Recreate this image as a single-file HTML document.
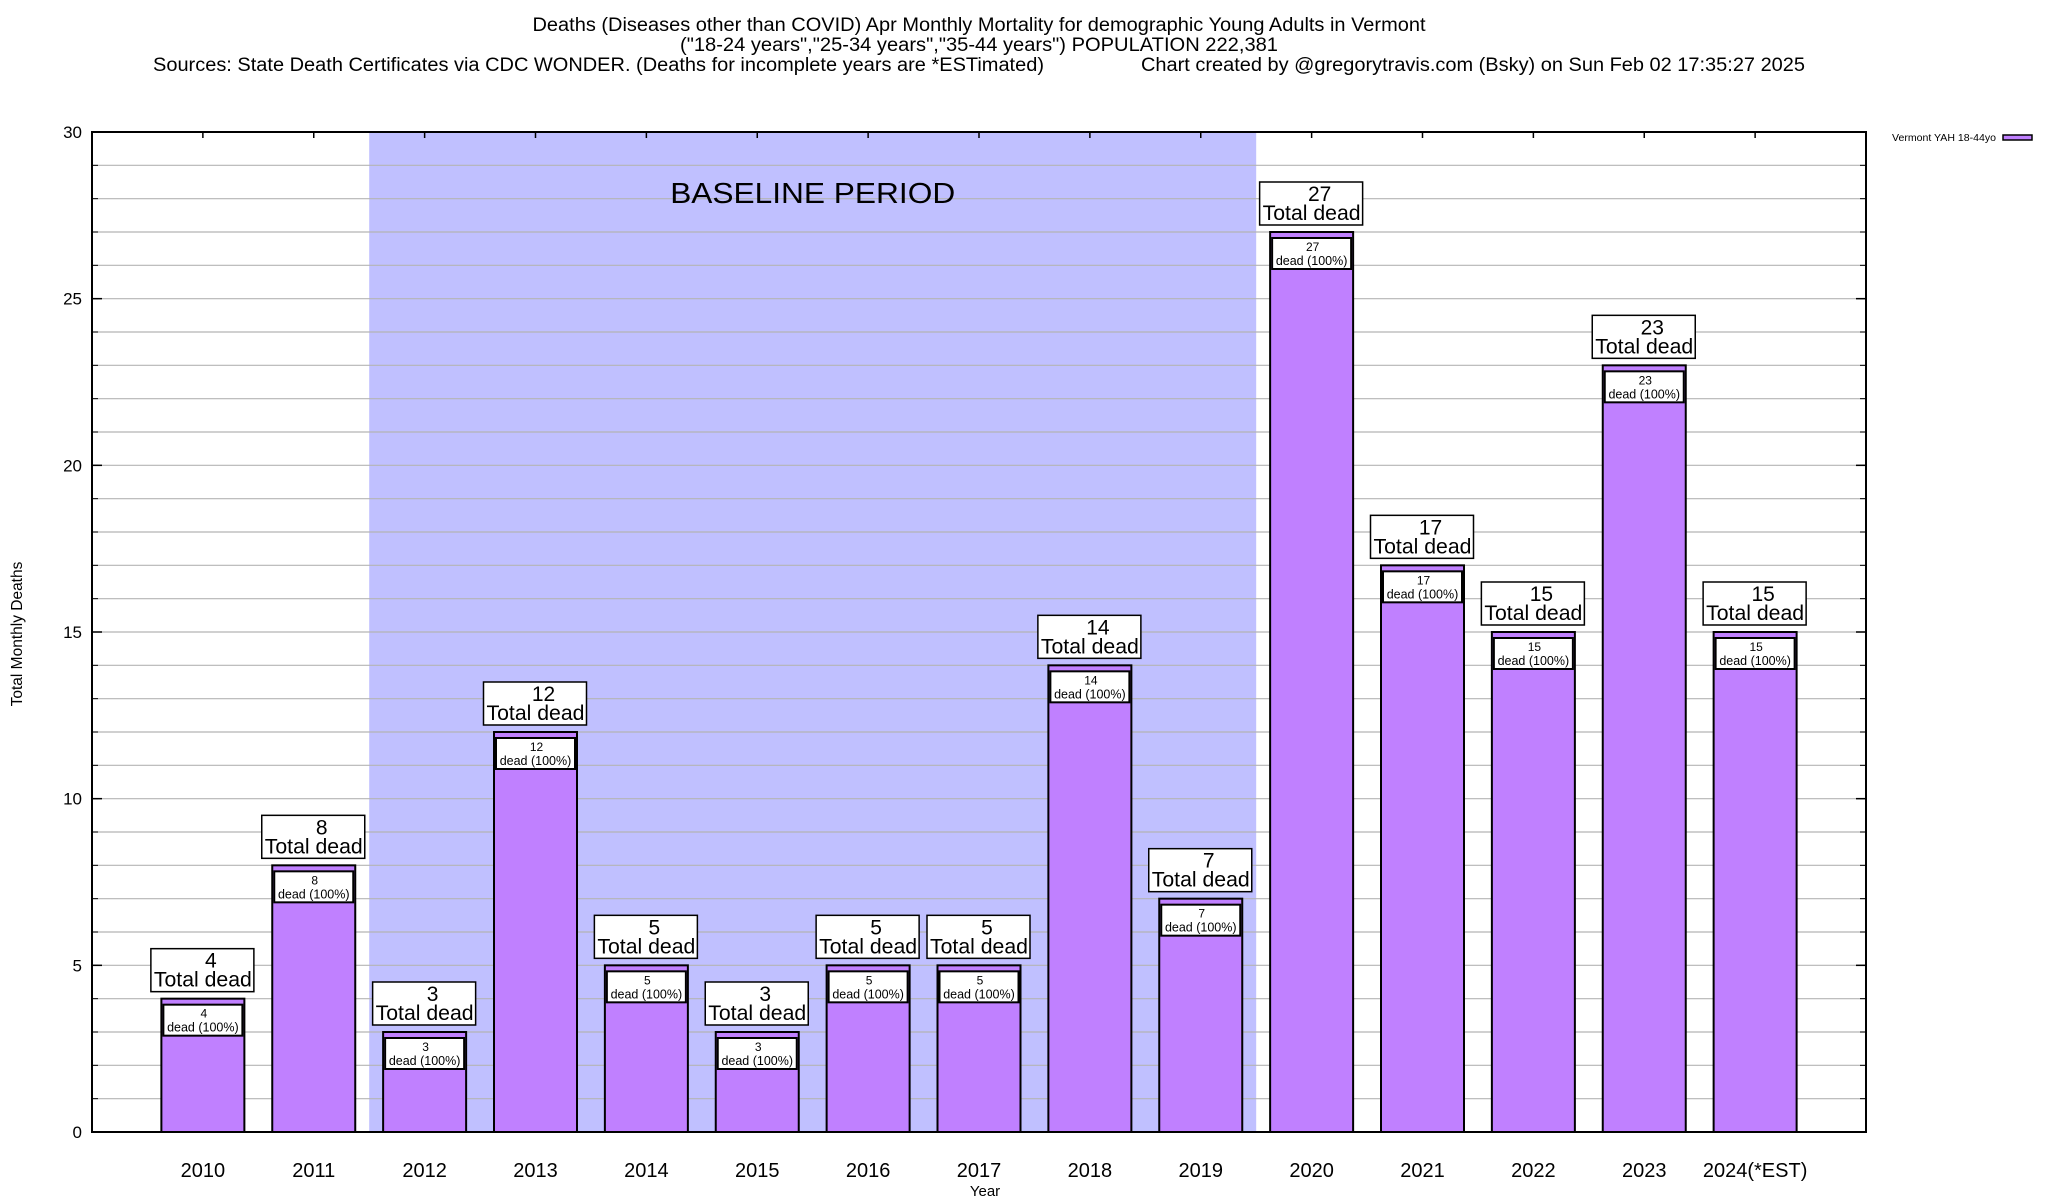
<!DOCTYPE html>
<html><head><meta charset="utf-8"><style>
html,body{margin:0;padding:0;background:#fff;}
svg{display:block;font-family:"Liberation Sans",sans-serif;}
</style></head><body>
<svg id="chart" width="2048" height="1200" viewBox="0 0 2048 1200" xmlns="http://www.w3.org/2000/svg">
<g>
<text x="979" y="31" font-size="19" text-anchor="middle" textLength="893" lengthAdjust="spacingAndGlyphs">Deaths (Diseases other than COVID) Apr Monthly Mortality for demographic Young Adults in Vermont</text>
<text x="979" y="51" font-size="19" text-anchor="middle" textLength="598" lengthAdjust="spacingAndGlyphs">("18-24 years","25-34 years","35-44 years") POPULATION 222,381</text>
<text x="153" y="71" font-size="19" textLength="891" lengthAdjust="spacingAndGlyphs">Sources: State Death Certificates via CDC WONDER. (Deaths for incomplete years are *ESTimated)</text>
<text x="1141" y="71" font-size="19" textLength="664" lengthAdjust="spacingAndGlyphs">Chart created by @gregorytravis.com (Bsky) on Sun Feb 02 17:35:27 2025</text>
</g>
<g id="plot"></g>
</svg>
<script>
const categories = ["2010","2011","2012","2013","2014","2015","2016","2017","2018","2019","2020","2021","2022","2023","2024(*EST)"];
const deaths = [4,8,3,12,5,3,5,5,14,7,27,17,15,23,15];
const yTicks = [0,5,10,15,20,25,30];
const baselineStart = 2, baselineEnd = 9;

const L=92, R=1866, T=132, B=1132;
const yMin=0, yMax=30, xMin=-1, xMax=15;
const y = v => B - (v - yMin)/(yMax - yMin)*(B - T);
const x = i => L + (i - xMin)/(xMax - xMin)*(R - L);
const slot = (R-L)/(xMax-xMin);
const NS="http://www.w3.org/2000/svg";
const g=document.getElementById('plot');
function el(tag, attrs, parent){const e=document.createElementNS(NS,tag);for(const k in attrs)e.setAttribute(k,attrs[k]);(parent||g).appendChild(e);return e;}

let sh=el('rect',{x:x(baselineStart)-slot/2,y:T,width:x(baselineEnd)-x(baselineStart)+slot,height:B-T,fill:'#c0c0ff'});



for(let v=yMin+1;v<yMax;v++){
  let gl=el('line',{x1:L,x2:R,y1:y(v),y2:y(v),stroke:'#b4b4b4','stroke-width':1.2});
  
  
  el('line',{x1:L,x2:L+6,y1:y(v),y2:y(v),stroke:'#000','stroke-width':1});
  el('line',{x1:R,x2:R-6,y1:y(v),y2:y(v),stroke:'#000','stroke-width':1});
}
let bt=el('text',{x:x((baselineStart+baselineEnd)/2),y:203,'font-size':29,'text-anchor':'middle',textLength:285,lengthAdjust:'spacingAndGlyphs'});
bt.textContent='BASELINE PERIOD';



yTicks.forEach(v=>{
  let t=el('text',{x:82,y:y(v)+6,'font-size':17,'text-anchor':'end'});
  t.textContent=v;
  
  
  el('line',{x1:L,x2:L+10,y1:y(v),y2:y(v),stroke:'#000','stroke-width':1.5});
  el('line',{x1:R,x2:R-10,y1:y(v),y2:y(v),stroke:'#000','stroke-width':1.5});
});

const bw=83;
categories.forEach((c,i)=>{
  const cx=x(i), top=y(deaths[i]);
  let b=el('rect',{x:cx-bw/2,y:top,width:bw,height:B-top,fill:'#c080ff',stroke:'#000','stroke-width':2});
  
  
  let ib=el('rect',{x:cx-bw/2+2,y:top+6,width:bw-4,height:31,fill:'#fff',stroke:'#000','stroke-width':2});
  
  
  let t1=el('text',{x:cx+1,y:top+19,'font-size':12,'text-anchor':'middle'});t1.textContent=deaths[i];
  
  
  let t2=el('text',{x:cx,y:top+33,'font-size':12.5,'text-anchor':'middle'});t2.textContent='dead (100%)';
  
  
  let ob=el('rect',{x:cx-52,y:top-50,width:103,height:43,fill:'#fff',stroke:'#000','stroke-width':1.5});
  
  
  let t3=el('text',{x:cx+8,y:top-31,'font-size':21,'text-anchor':'middle'});t3.textContent=deaths[i];
  
  
  let t4=el('text',{x:cx,y:top-12,'font-size':21,'text-anchor':'middle',textLength:98,lengthAdjust:'spacingAndGlyphs'});t4.textContent='Total dead';
  
  
  let xl=el('text',{x:cx,y:1177,'font-size':20,'text-anchor':'middle'});xl.textContent=c;
  
  
  el('line',{x1:cx,x2:cx,y1:T,y2:T+6,stroke:'#000','stroke-width':1.5});
});

let fr=el('rect',{x:L,y:T,width:R-L,height:B-T,fill:'none',stroke:'#000','stroke-width':2});



let xt=el('text',{x:985,y:1196,'font-size':15,'text-anchor':'middle'});xt.textContent='Year';


let yt=el('text',{x:0,y:0,'font-size':15.5,'text-anchor':'middle',transform:'translate(22,634) rotate(-90)'});yt.textContent='Total Monthly Deaths';



let lg=el('text',{x:1996,y:141,'font-size':10,'text-anchor':'end',textLength:104,lengthAdjust:'spacingAndGlyphs'});lg.textContent='Vermont YAH 18-44yo';


let ls=el('rect',{x:2003,y:135,width:29,height:5,fill:'#c080ff',stroke:'#000','stroke-width':1.5});


</script>
</body></html>
